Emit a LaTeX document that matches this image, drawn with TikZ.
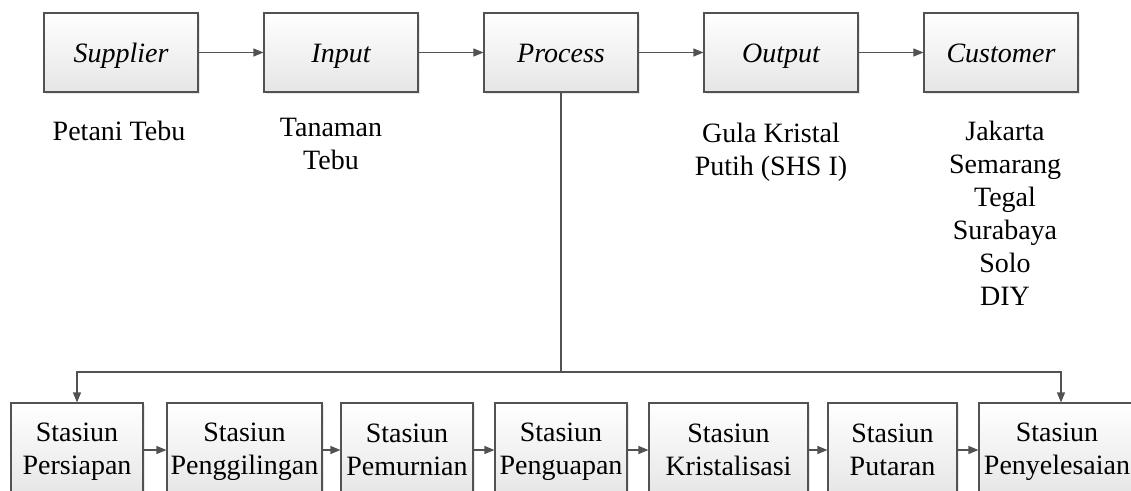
\documentclass[tikz,border=0pt]{standalone}
\usepackage{fontspec}
\setmainfont{Liberation Serif}
\usetikzlibrary{arrows.meta,shadows}

% fixed-size strut so every line in a station box sits on the same baseline
\newcommand\stline{\rule[-5pt]{0pt}{27pt}}
\newcommand\station[1]{Stasiun\stline\\#1\stline}

\begin{document}
\begin{tikzpicture}[
  x=1pt, y=-1pt,
  txt/.style={font=\fontsize{28}{33}\selectfont, text=black, inner sep=0pt},
  blk/.style={txt, draw=black!68, line width=1.1pt, top color=white, bottom color=black!10,
              drop shadow={opacity=0.18, shadow xshift=1.5pt, shadow yshift=-1.5pt},
              inner sep=0pt, align=center},
  topblk/.style={blk, minimum width=154pt, minimum height=79pt, text height=19pt, text depth=0pt,
                 font=\fontsize{28}{33}\selectfont\itshape},
  stblk/.style={blk, minimum height=94pt},
  note/.style={txt, align=center, anchor=base},
  link/.style={draw=black!68, line width=1.1pt, -{Triangle[length=10pt,width=8pt]}},
  wire/.style={draw=black!68, line width=1.1pt}
]
\useasboundingbox (0,0) rectangle (1131,490);
\clip (0,0) rectangle (1131,490);

% SIPOC row
\node[topblk] (sup) at (121,52.5)  {Supplier};
\node[topblk] (inp) at (341,52.5)  {Input};
\node[topblk] (pro) at (561,52.5)  {Process};
\node[topblk] (out) at (781,52.5)  {Output};
\node[topblk] (cus) at (1001,52.5) {Customer};

\draw[link] (sup) -- (inp);
\draw[link] (inp) -- (pro);
\draw[link] (pro) -- (out);
\draw[link] (out) -- (cus);

% descriptions under each block (anchored at the baseline of the last line)
\node[note] (nsup) at (119,140)  {Petani Tebu};
\node[note] (ninp) at (331,169)  {Tanaman\\Tebu};
\node[note] (nout) at (771,175)  {Gula Kristal\\Putih (SHS I)};
\node[note] (ncus) at (1005,305) {Jakarta\\Semarang\\Tegal\\Surabaya\\Solo\\DIY};

% production stations
\node[stblk, minimum width=132pt] (s1) at (77,450)     {\station{Persiapan}};
\node[stblk, minimum width=155pt] (s2) at (244.5,450)  {\station{Penggilingan}};
\node[stblk, minimum width=132pt] (s3) at (407,450)    {\station{Pemurnian}};
\node[stblk, minimum width=132pt] (s4) at (561,450)    {\station{Penguapan}};
\node[stblk, minimum width=159pt] (s5) at (728.5,450)  {\station{Kristalisasi}};
\node[stblk, minimum width=129pt] (s6) at (892.5,450)  {\station{Putaran}};
\node[stblk, minimum width=156pt] (s7) at (1057,450)   {\station{Penyelesaian}};

\draw[link] (s1) -- (s2);
\draw[link] (s2) -- (s3);
\draw[link] (s3) -- (s4);
\draw[link] (s4) -- (s5);
\draw[link] (s5) -- (s6);
\draw[link] (s6) -- (s7);

% branch from Process down to the first and last station
\coordinate (bus) at (561,372);
\draw[wire] (pro.south) -- (bus);
\draw[link] (bus) -| ([xshift=4pt]s7.north);
\draw[link] (bus) -| (s1.north);
\end{tikzpicture}
\end{document}
